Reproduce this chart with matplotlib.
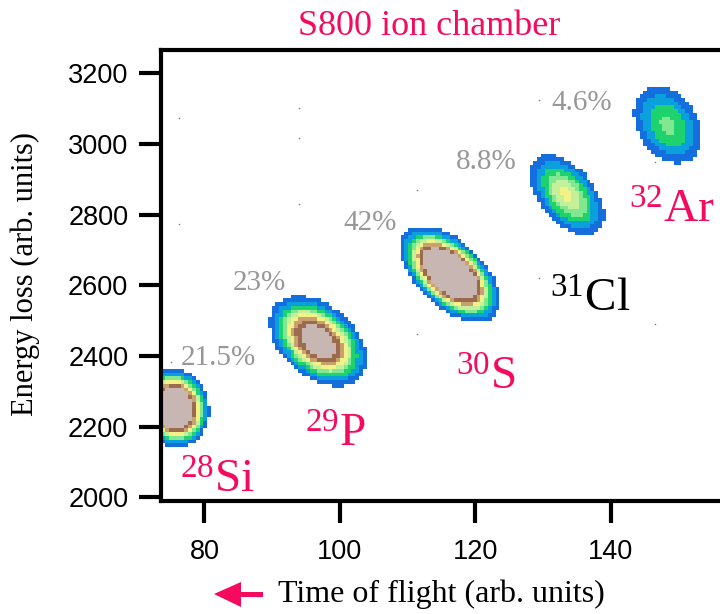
import numpy as np
import matplotlib
matplotlib.use('Agg')
import matplotlib.pyplot as plt
from matplotlib.colors import ListedColormap, BoundaryNorm
from matplotlib.patches import Polygon

# ---------------- data ----------------
mass_numbers = ['28', '29', '30', '31', '32']
symbols = ['Si', 'P', 'S', 'Cl', 'Ar']
fractions = ['21.5%', '23%', '42%', '8.8%', '4.6%']

# cluster centres (time of flight, energy loss) and peak counts
blob_tof = [75.65, 96.75, 116.24, 133.5, 148.4]
blob_de = [2253.0, 2442.6, 2632.0, 2855.7, 3053.7]
blob_peak = [125, 52, 135, 13.0, 7.2]
# cluster widths (along major / minor axis, screen pixels) and tilt (deg)
blob_sig_major = [12.8, 19.8, 19.4, 21.0, 21.0]
blob_sig_minor = [11.0, 12.8, 10.5, 12.0, 15.0]
blob_angle = [-75, -39.5, -43, -50, -55]

# isolated single events
stray_tof = [76.24, 93.95, 93.95, 93.95, 76.24, 111.37, 129.37, 111.37, 146.49, 129.37, 146.49, 75.06]
stray_de = [3073.6, 3101.9, 3017.0, 2830.2, 2773.6, 2869.8, 2620.8, 2462.4, 2490.7, 3124.5, 2949.1, 2383.1]

x_ticks = [80, 100, 120, 140]
y_ticks = [2000, 2200, 2400, 2600, 2800, 3000, 3200]

# label placement (data coords)
label_tof = [81.99, 99.26, 121.55, 136.9, 149.0]
label_de = [2012.5, 2142.6, 2303.9, 2524.6, 2776.5]
label_colors = ['#f50a5f', '#f50a5f', '#f50a5f', 'black', '#f50a5f']
frac_tof = [81.99, 88.04, 104.43, 121.55, 135.72]
frac_de = [2374.6, 2586.9, 2756.6, 2929.3, 3096.2]

# ---------------- style ----------------
crimson = '#f50a5f'
plt.rcParams['mathtext.fontset'] = 'custom'
plt.rcParams['mathtext.rm'] = 'Liberation Serif'
plt.rcParams['mathtext.it'] = 'Liberation Serif:italic'
plt.rcParams['mathtext.default'] = 'rm'

xmin, xmax = 73.58, 156.1
ymin, ymax = 1990.0, 3266.0

fig = plt.figure(figsize=(7.2, 6.14), dpi=100)
ax = fig.add_axes([161 / 720, 1 - 501 / 614, 1 - 161 / 720, (501 - 50) / 614])
ax.set_xlim(xmin, xmax)
ax.set_ylim(ymin, ymax)

px_x = ax.bbox.width / (xmax - xmin)
px_y = ax.bbox.height / (ymax - ymin)

# histogram grid
xe = np.arange(72.0, 158.0, 0.56)
ye = np.arange(1975.0, 3285.0, 10.5)
xc = 0.5 * (xe[:-1] + xe[1:])
yc = 0.5 * (ye[:-1] + ye[1:])
X, Y = np.meshgrid(xc, yc)
Z = np.zeros_like(X)
for cx, cy, A, sa, sb, ang in zip(blob_tof, blob_de, blob_peak, blob_sig_major, blob_sig_minor, blob_angle):
    u = (X - cx) * px_x
    w = (Y - cy) * px_y
    t = np.deg2rad(ang)
    a = u * np.cos(t) + w * np.sin(t)
    b = -u * np.sin(t) + w * np.cos(t)
    Z += A * np.exp(-0.5 * ((a / sa) ** 2 + (b / sb) ** 2))
Zm = np.ma.masked_less(Z, 1.0)

colors = ['#146ede', '#0aa0dc', '#1ed26e', '#80e890', '#c4f09a', '#f2f288',
          '#c9a070', '#9c6a4c', '#c8b6b2']
bounds = [1, 2.2, 4, 6.5, 9, 12, 17, 23, 31, 1e6]
cmap = ListedColormap(colors)
norm = BoundaryNorm(bounds, cmap.N)
ax.pcolormesh(xe, ye, Zm, cmap=cmap, norm=norm, shading='flat', zorder=1)
ax.scatter(stray_tof, stray_de, s=1.2, color='#777777', linewidths=0, zorder=2)

# spines & ticks
for side in ['left', 'top', 'bottom']:
    ax.spines[side].set_linewidth(3)
ax.spines['right'].set_visible(False)
ax.set_xticks(x_ticks)
ax.set_yticks(y_ticks)
ax.tick_params(axis='both', direction='out', length=15.5, width=3, labelsize=19.5)
ax.tick_params(axis='x', pad=12)
ax.tick_params(axis='y', pad=8)
for lab in ax.get_xticklabels() + ax.get_yticklabels():
    lab.set_fontfamily('Liberation Sans')

# annotations
for m, s, x, y, c in zip(mass_numbers, symbols, label_tof, label_de, label_colors):
    ax.text(x, y, r'$^{%s}$%s' % (m, s), fontsize=34, family='Liberation Serif',
            color=c, ha='center', va='baseline', zorder=3)
for f, x, y in zip(fractions, frac_tof, frac_de):
    ax.text(x, y, f, fontsize=21, family='Liberation Serif', color='#979797',
            ha='center', va='baseline', zorder=3)

fig.text(429 / 720, 1 - 35 / 614, 'S800 ion chamber', fontsize=26,
         family='Liberation Serif', color=crimson, ha='center', va='baseline')
fig.text(441 / 720, 1 - 602 / 614, 'Time of flight (arb. units)', fontsize=23,
         family='Liberation Serif', color='black', ha='center', va='baseline')
fig.text(25 / 720, 1 - 274 / 614, 'Energy loss (arb. units)', fontsize=22,
         family='Liberation Serif', color='black', ha='center', va='center',
         rotation=90)

# arrow next to x label
W, H = 720.0, 614.0
head = [(214, 594), (241, 582), (241, 607)]
shaft = [(239, 591.5), (263, 591.5), (263, 596.5), (239, 596.5)]
for pts in (head, shaft):
    fig.patches.append(Polygon([(px / W, 1 - py / H) for px, py in pts], closed=True,
                               transform=fig.transFigure, facecolor=crimson,
                               edgecolor='none'))

fig.savefig('out.png', dpi=100, facecolor='white')
